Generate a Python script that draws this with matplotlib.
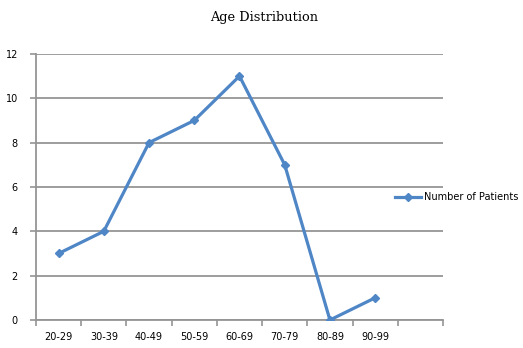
import numpy as np
import matplotlib.pyplot as plt

# data
categories = ["20-29", "30-39", "40-49", "50-59", "60-69", "70-79", "80-89", "90-99"]
patients = [3, 4, 8, 9, 11, 7, 0, 1]
n_slots = 9  # axis has one empty category at the end

fig = plt.figure(figsize=(5.23, 3.48), dpi=100)
ax = fig.add_axes([0.0688, 0.0805, 0.7782, 0.7645])

grid_col = "#959595"
line_col = "#4f86c6"

x = np.arange(len(categories)) + 0.5
ax.plot(x, patients, color=line_col, lw=2.3, marker="D", ms=4.5,
        label="Number of Patients", zorder=3)

ax.set_xlim(0, n_slots)
ax.set_ylim(0, 12)
ax.set_yticks(np.arange(0, 13, 2))
ax.set_xticks(np.arange(0, n_slots + 1))
ax.set_xticklabels([])
ax.set_xticks(x, minor=True)
ax.set_xticklabels(categories, minor=True)
ax.tick_params(axis="x", which="minor", length=0, pad=9, labelsize=7)
ax.tick_params(axis="x", which="major", length=4, color=grid_col, width=1.2)
ax.tick_params(axis="y", length=4, color=grid_col, width=1.2, labelsize=7, pad=9)

ax.yaxis.grid(True, color=grid_col, lw=1.3)
ax.set_axisbelow(True)
for s in ["top", "right"]:
    ax.spines[s].set_visible(False)
for s in ["left", "bottom"]:
    ax.spines[s].set_color(grid_col)
    ax.spines[s].set_linewidth(1.3)

fig.text(0.505, 0.95, "Age Distribution", ha="center", va="center",
         family="DejaVu Serif", fontsize=9.3)

fig.legend(loc="center left", bbox_to_anchor=(395 / 523, 1 - 197 / 348), frameon=False,
           fontsize=7, handlelength=2.7, handletextpad=0.3, borderaxespad=0.0,
           borderpad=0.0)

fig.savefig("out.png", dpi=100)
